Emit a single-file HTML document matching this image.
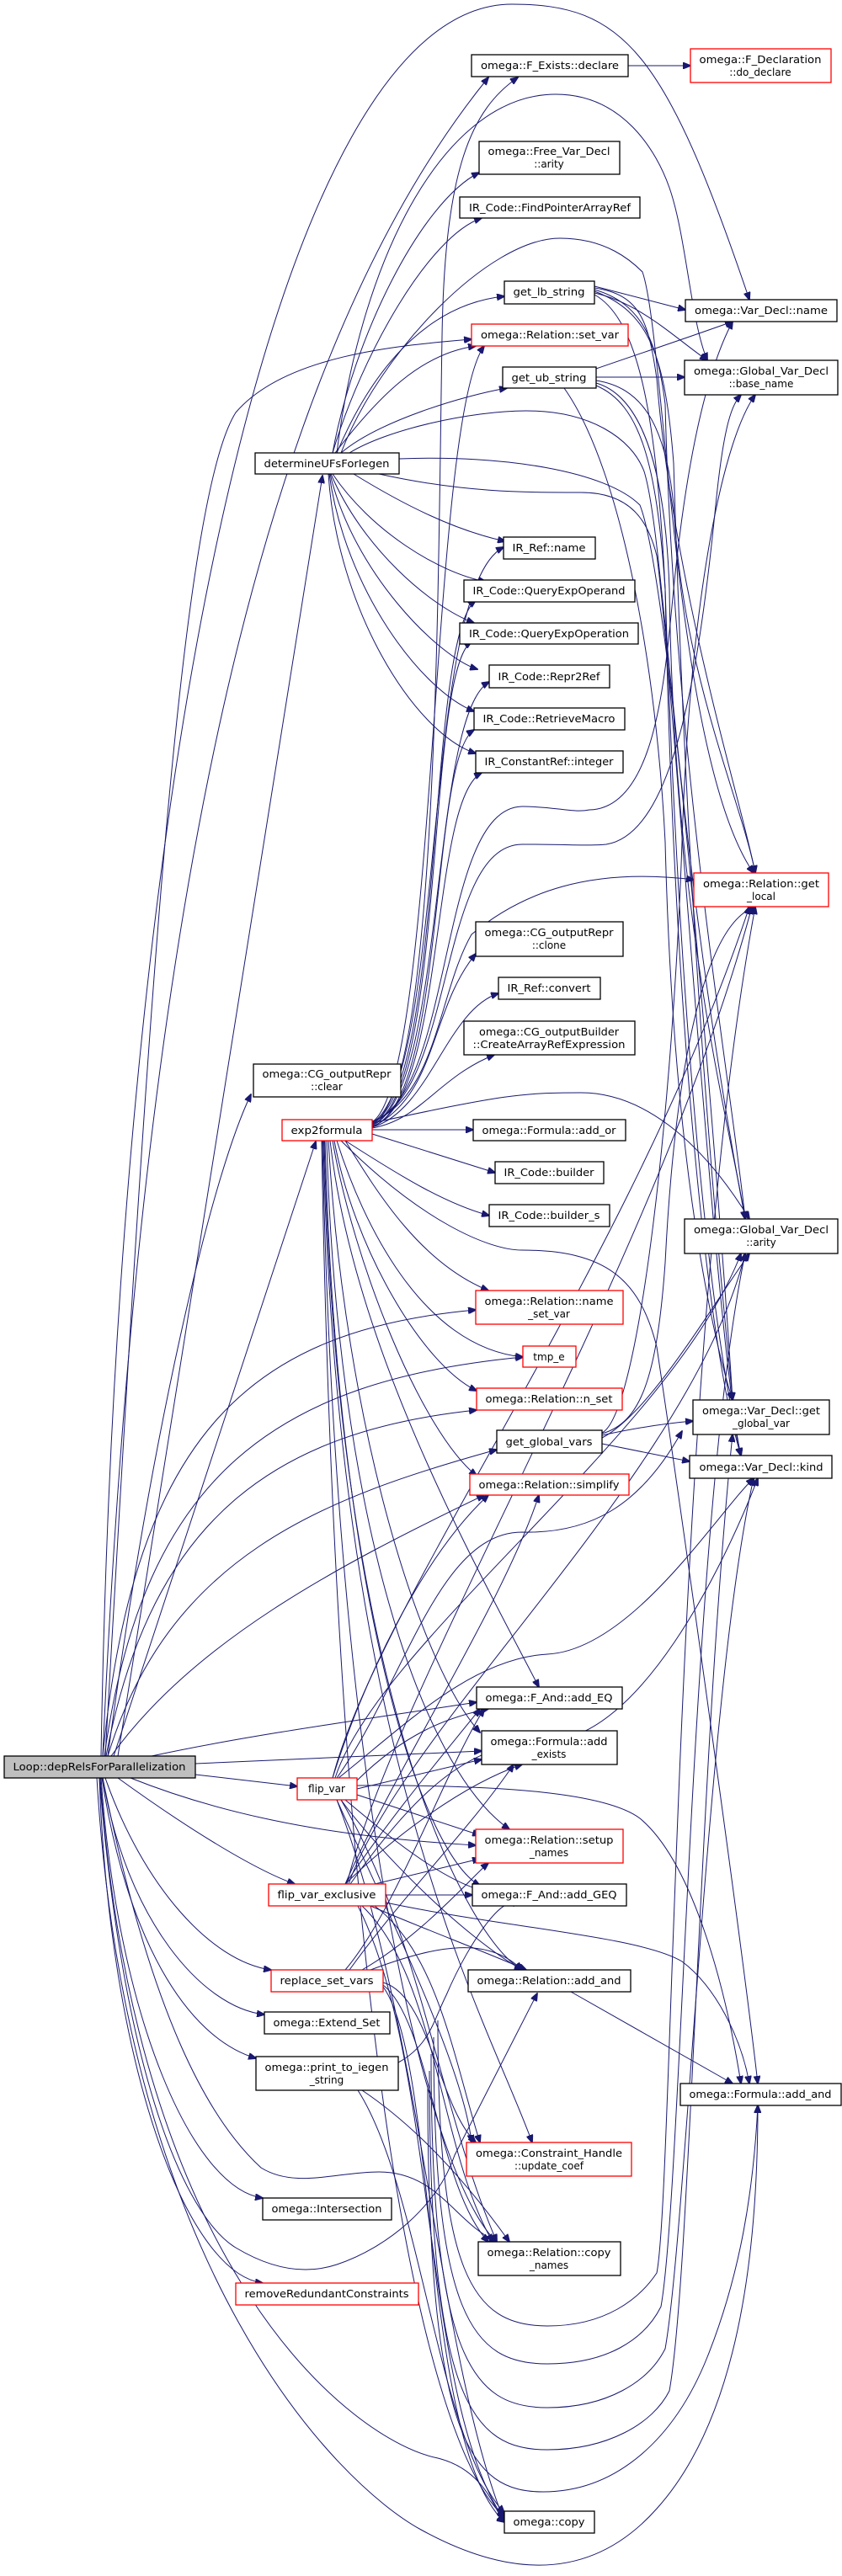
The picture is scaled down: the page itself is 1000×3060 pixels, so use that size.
<!DOCTYPE html>
<html><head><meta charset="utf-8"><style>
html,body{margin:0;padding:0;background:#fff;}
svg{display:block;}
text{font-family:"DejaVu Sans","Liberation Sans",sans-serif;font-size:12px;fill:#000;}
.e{fill:none;stroke:#191970;stroke-width:1;}
.n{fill:#fff;stroke:#000;stroke-width:1.3;}
.r{fill:#fff;stroke:#ff0000;stroke-width:1.3;}
</style></head><body>
<svg width="1000" height="3060" viewBox="0 0 1000 3060" xmlns="http://www.w3.org/2000/svg">
<defs><marker id="a" markerWidth="10" markerHeight="8" refX="9" refY="4" orient="auto" markerUnits="userSpaceOnUse"><path d="M0,0 L10,4 L0,8 z" fill="#191970" stroke="#191970"/></marker></defs>
<g class="e" marker-end="url(#a)">
<!-- Loop edges -->
<path d="M120,2086 C140,900 330,5 608,5 C740,5 790,60 890,356"/>
<path d="M122,2086 C170,1000 330,400 580,92"/>
<path d="M125,2086 C170,1300 210,600 280,490 C340,420 480,410 560,403"/>
<path d="M140,2086 L383,565"/>
<path d="M128,2086 C180,1700 250,1400 298,1300"/>
<path d="M135,2086 L375,1356"/>
<path d="M122,2086 C160,1700 300,1580 565,1556"/>
<path d="M124,2086 C170,1750 330,1640 621,1612"/>
<path d="M126,2086 C180,1800 330,1700 566,1675"/>
<path d="M128,2086 C200,1850 380,1780 590,1722"/>
<path d="M132,2086 C230,1950 400,1860 575,1776"/>
<path d="M180,2086 C300,2060 450,2040 566,2022"/>
<path d="M232,2095 L572,2080"/>
<path d="M232,2108 L353,2122"/>
<path d="M155,2112 C300,2170 450,2185 565,2192"/>
<path d="M140,2112 C220,2170 300,2220 350,2238"/>
<path d="M125,2112 C170,2240 250,2330 322,2340"/>
<path d="M122,2112 C150,2280 240,2385 314,2393"/>
<path d="M121,2112 C150,2300 220,2420 304,2445"/>
<path d="M120,2112 C140,2400 230,2600 312,2611"/>
<path d="M118,2112 C130,2450 220,2700 312,2712"/>
<path d="M115,2112 C150,2700 400,2950 500,3005 C600,3060 700,3070 780,2980 C870,2880 900,2700 900,2501"/>
<path d="M118,2112 C150,2500 230,2640 280,2670 C330,2700 370,2700 400,2690 C460,2670 520,2620 540,2560 L638,2368"/>
<path d="M122,2112 C180,2400 250,2520 310,2575 C350,2600 400,2580 450,2580 C520,2580 540,2640 590,2663"/>
<path d="M119,2112 C160,2700 420,2900 520,2920 C580,2935 590,2990 599,2996"/>
<!-- determineUFs -->
<path d="M395,538 C420,400 500,240 569,205"/>
<path d="M395,538 C430,420 510,280 572,259"/>
<path d="M400,538 C450,420 520,360 599,352"/>
<path d="M398,538 C450,470 500,420 565,411"/>
<path d="M405,538 C450,500 550,470 602,461"/>
<path d="M400,538 C430,300 530,112 660,112 C740,112 780,180 795,223 C815,280 820,380 840,428"/>
<path d="M405,538 C450,420 580,283 665,283 C720,283 750,310 763,323 C790,400 800,900 895,1037"/>
<path d="M415,538 C460,510 560,488 625,488 C700,488 750,520 765,560 C790,640 800,1000 885,1448"/>
<path d="M474,545 C600,540 720,560 760,600 C800,700 860,1500 870,1663"/>
<path d="M450,563 C550,585 620,585 690,585 C750,585 770,620 780,660 C800,800 850,1600 880,1729"/>
<path d="M420,563 C480,600 540,630 600,643"/>
<path d="M395,563 C440,630 520,680 577,691"/>
<path d="M393,563 C430,650 510,720 563,740"/>
<path d="M392,563 C420,680 520,780 567,795"/>
<path d="M391,563 C410,700 500,820 563,845"/>
<path d="M390,563 C400,720 490,870 565,895"/>
<!-- exp2formula -->
<path d="M442,1335 C520,1300 520,700 525,400 C528,200 560,130 615,92"/>
<path d="M442,1333 C520,1280 510,500 575,411"/>
<path d="M442,1334 C530,1280 500,700 598,650"/>
<path d="M442,1335 C530,1290 505,760 565,713"/>
<path d="M442,1336 C530,1300 505,800 560,762"/>
<path d="M442,1337 C530,1300 510,850 581,810"/>
<path d="M442,1338 C530,1310 510,900 563,867"/>
<path d="M442,1338 C530,1310 510,950 572,918"/>
<path d="M442,1339 C520,1300 510,1200 565,1133"/>
<path d="M442,1339 C510,1320 530,1200 592,1180"/>
<path d="M442,1340 C500,1330 520,1280 587,1253"/>
<path d="M442,1342 L562,1342"/>
<path d="M442,1347 L588,1393"/>
<path d="M410,1355 C480,1400 530,1430 581,1444"/>
<path d="M442,1333 C520,1300 520,1180 560,1110 C620,1060 700,1030 824,1045"/>
<path d="M442,1332 C540,1300 520,960 620,958 C660,958 680,966 700,962 C780,960 790,800 800,700 C820,500 850,420 870,382"/>
<path d="M442,1332 C540,1300 520,1004 620,1003 C680,1003 700,1005 720,1003 C800,990 830,800 850,600 C860,500 870,480 880,469"/>
<path d="M442,1334 C600,1300 620,1298 690,1298 C760,1298 830,1350 890,1448"/>
<path d="M410,1355 C450,1420 500,1500 580,1533"/>
<path d="M400,1355 C430,1450 500,1600 621,1612"/>
<path d="M397,1355 C420,1480 500,1620 566,1652"/>
<path d="M395,1355 C420,1500 500,1700 566,1753"/>
<path d="M392,1355 C420,1600 560,1850 640,2004"/>
<path d="M390,1355 C410,1700 500,1980 570,2058"/>
<path d="M388,1355 C400,1800 500,2100 605,2173"/>
<path d="M386,1355 C400,1900 500,2200 570,2240"/>
<path d="M385,1355 C400,2000 550,2300 620,2340"/>
<path d="M384,1355 C400,2100 580,2400 632,2545"/>
<path d="M383,1355 C400,2200 520,2600 590,2663"/>
<path d="M382,1355 C400,2400 500,2900 599,2990"/>
<path d="M405,1355 C500,1450 580,1485 620,1485 C720,1485 760,1520 780,1600 C810,1800 880,2300 900,2475"/>
<!-- get_lb / get_ub -->
<path d="M706,340 L814,368"/>
<path d="M706,348 C760,360 800,400 840,428"/>
<path d="M706,342 C760,350 770,380 780,450 C800,700 880,950 897,1037"/>
<path d="M706,344 C760,360 780,400 790,480 C800,900 870,1300 885,1448"/>
<path d="M706,346 C770,370 790,420 800,550 C820,1200 860,1550 870,1663"/>
<path d="M706,350 C760,380 780,500 790,700 C810,1300 850,1600 880,1729"/>
<path d="M708,438 C760,420 820,400 870,382"/>
<path d="M708,448 L813,448"/>
<path d="M708,452 C760,460 790,500 800,600 C810,800 880,950 897,1037"/>
<path d="M708,455 C760,470 790,550 795,700 C800,1100 870,1350 885,1448"/>
<path d="M670,461 C740,560 780,800 790,1000 C800,1400 850,1600 870,1663"/>
<path d="M708,458 C760,480 780,550 790,700 C800,1200 840,1600 880,1729"/>
<!-- get_global_vars -->
<path d="M715,1705 C760,1695 800,1690 823,1688"/>
<path d="M715,1715 L819,1736"/>
<path d="M715,1703 C760,1690 780,1640 790,1500 C800,1300 830,1100 897,1077"/>
<path d="M715,1708 C770,1680 840,1560 890,1489"/>
<path d="M715,1702 C760,1680 800,1300 810,1000 C820,700 860,520 897,469"/>
<!-- flip_var -->
<path d="M395,2112 C430,2000 500,1850 580,1776"/>
<path d="M424,2115 C480,2060 530,2040 580,2030"/>
<path d="M424,2125 L572,2090"/>
<path d="M424,2132 L570,2180"/>
<path d="M410,2138 C460,2180 520,2230 570,2245"/>
<path d="M405,2138 C450,2200 550,2300 620,2340"/>
<path d="M400,2138 C450,2250 550,2450 560,2545"/>
<path d="M424,2121 C600,2120 720,2130 760,2160 C820,2210 860,2350 880,2475"/>
<path d="M395,2112 C450,1900 750,1500 890,1077"/>
<path d="M398,2112 C450,1950 800,1700 880,1489"/>
<path d="M400,2112 C480,2000 520,1820 620,1820 C700,1822 760,1790 810,1700"/>
<path d="M402,2112 C480,2050 560,1970 650,1965 C750,1960 850,1800 895,1756"/>
<path d="M400,2138 C500,2400 520,2800 599,2995"/>
<path d="M405,2138 C500,2300 520,2500 590,2663"/>
<!-- flip_var_exclusive -->
<path d="M410,2238 C470,2150 530,2080 570,2030"/>
<path d="M410,2238 C470,2180 550,2120 620,2096"/>
<path d="M445,2238 L570,2208"/>
<path d="M458,2251 L561,2251"/>
<path d="M410,2238 C470,2100 600,1900 640,1776"/>
<path d="M412,2238 C470,2000 780,1500 893,1077"/>
<path d="M414,2238 C480,2050 820,1750 885,1489"/>
<path d="M416,2238 C500,2120 560,2070 650,2068 C760,2066 860,1860 900,1756"/>
<path d="M440,2264 C500,2290 580,2320 625,2340"/>
<path d="M445,2264 C520,2320 540,2450 570,2545"/>
<path d="M430,2264 C520,2350 520,2550 585,2663"/>
<path d="M425,2264 C520,2450 500,2850 599,2993"/>
<path d="M458,2260 C600,2290 760,2300 810,2330 C850,2360 880,2420 890,2475"/>
<!-- replace_set_vars -->
<path d="M410,2340 C470,2270 530,2100 575,2030"/>
<path d="M415,2340 C480,2250 560,2170 610,2096"/>
<path d="M430,2340 C500,2300 560,2230 580,2213"/>
<path d="M455,2355 C510,2370 520,2500 565,2545"/>
<path d="M455,2358 C510,2400 520,2600 580,2663"/>
<path d="M455,2360 C520,2450 500,2900 599,2996"/>
<path d="M440,2340 C520,2310 580,2300 620,2340"/>
<!-- print_to_iegen -->
<path d="M473,2450 C510,2430 515,2400 530,2370 C560,2300 600,2250 610,2264"/>
<path d="M430,2483 C500,2530 560,2600 605,2663"/>
<path d="M425,2483 C500,2600 520,2900 599,2985"/>
<!-- bottom arcs -->
<path d="M520,2400 C520,2700 560,2763 650,2763 C720,2763 760,2730 780,2700 C800,2600 800,1600 897,1077"/>
<path d="M515,2420 C515,2750 560,2808 650,2808 C720,2808 765,2780 785,2740 C810,2600 820,1800 885,1489"/>
<path d="M512,2440 C512,2800 560,2860 650,2860 C720,2860 770,2830 790,2790 C815,2650 840,2000 895,1756"/>
<path d="M510,2460 C510,2850 560,2910 650,2910 C720,2910 775,2880 795,2840 C820,2700 830,2100 870,1704"/>
<path d="M508,2480 C508,2900 560,2960 645,2960 C730,2960 800,2900 840,2800 C880,2700 895,2600 900,2501"/>
<path d="M678,2366 L870,2475"/>
<path d="M746,78 L820,78"/>
</g>
<!-- nodes -->
<g>
<rect class="n" x="560" y="65" width="186" height="26"/><text x="653" y="82" text-anchor="middle" textLength="164" lengthAdjust="spacingAndGlyphs">omega::F_Exists::declare</text>
<rect class="r" x="820" y="58" width="167" height="40"/><text x="903" y="75" text-anchor="middle" textLength="145" lengthAdjust="spacingAndGlyphs">omega::F_Declaration</text><text x="903" y="90" text-anchor="middle">::do_declare</text>
<rect class="n" x="569" y="168" width="167" height="39"/><text x="652" y="184" text-anchor="middle" textLength="145" lengthAdjust="spacingAndGlyphs">omega::Free_Var_Decl</text><text x="652" y="199" text-anchor="middle">::arity</text>
<rect class="n" x="546" y="234" width="214" height="25"/><text x="653" y="251" text-anchor="middle" textLength="192" lengthAdjust="spacingAndGlyphs">IR_Code::FindPointerArrayRef</text>
<rect class="n" x="599" y="334" width="107" height="27"/><text x="652" y="351" text-anchor="middle" textLength="85" lengthAdjust="spacingAndGlyphs">get_lb_string</text>
<rect class="n" x="814" y="356" width="180" height="26"/><text x="904" y="373" text-anchor="middle" textLength="158" lengthAdjust="spacingAndGlyphs">omega::Var_Decl::name</text>
<rect class="r" x="560" y="385" width="186" height="26"/><text x="653" y="402" text-anchor="middle" textLength="164" lengthAdjust="spacingAndGlyphs">omega::Relation::set_var</text>
<rect class="n" x="597" y="436" width="111" height="25"/><text x="652" y="453" text-anchor="middle" textLength="89" lengthAdjust="spacingAndGlyphs">get_ub_string</text>
<rect class="n" x="813" y="428" width="182" height="41"/><text x="904" y="445" text-anchor="middle" textLength="160" lengthAdjust="spacingAndGlyphs">omega::Global_Var_Decl</text><text x="904" y="460" text-anchor="middle">::base_name</text>
<rect class="n" x="303" y="538" width="171" height="25"/><text x="388" y="555" text-anchor="middle" textLength="149" lengthAdjust="spacingAndGlyphs">determineUFsForIegen</text>
<rect class="n" x="598" y="638" width="109" height="26"/><text x="652" y="655" text-anchor="middle" textLength="87" lengthAdjust="spacingAndGlyphs">IR_Ref::name</text>
<rect class="n" x="551" y="689" width="203" height="26"/><text x="652" y="706" text-anchor="middle" textLength="181" lengthAdjust="spacingAndGlyphs">IR_Code::QueryExpOperand</text>
<rect class="n" x="546" y="740" width="212" height="25"/><text x="652" y="757" text-anchor="middle" textLength="190" lengthAdjust="spacingAndGlyphs">IR_Code::QueryExpOperation</text>
<rect class="n" x="581" y="790" width="143" height="27"/><text x="652" y="808" text-anchor="middle" textLength="121" lengthAdjust="spacingAndGlyphs">IR_Code::Repr2Ref</text>
<rect class="n" x="563" y="841" width="179" height="26"/><text x="652" y="858" text-anchor="middle" textLength="157" lengthAdjust="spacingAndGlyphs">IR_Code::RetrieveMacro</text>
<rect class="n" x="565" y="892" width="175" height="26"/><text x="652" y="909" text-anchor="middle" textLength="153" lengthAdjust="spacingAndGlyphs">IR_ConstantRef::integer</text>
<rect class="r" x="824" y="1037" width="160" height="40"/><text x="904" y="1054" text-anchor="middle" textLength="138" lengthAdjust="spacingAndGlyphs">omega::Relation::get</text><text x="904" y="1069" text-anchor="middle">_local</text>
<rect class="n" x="565" y="1095" width="175" height="41"/><text x="652" y="1112" text-anchor="middle" textLength="153" lengthAdjust="spacingAndGlyphs">omega::CG_outputRepr</text><text x="652" y="1127" text-anchor="middle">::clone</text>
<rect class="n" x="592" y="1161" width="121" height="26"/><text x="652" y="1178" text-anchor="middle" textLength="99" lengthAdjust="spacingAndGlyphs">IR_Ref::convert</text>
<rect class="n" x="551" y="1213" width="203" height="40"/><text x="652" y="1230" text-anchor="middle" textLength="166" lengthAdjust="spacingAndGlyphs">omega::CG_outputBuilder</text><text x="652" y="1245" text-anchor="middle" textLength="181" lengthAdjust="spacingAndGlyphs">::CreateArrayRefExpression</text>
<rect class="n" x="301" y="1264" width="175" height="39"/><text x="388" y="1280" text-anchor="middle" textLength="153" lengthAdjust="spacingAndGlyphs">omega::CG_outputRepr</text><text x="388" y="1295" text-anchor="middle">::clear</text>
<rect class="r" x="335" y="1330" width="107" height="25"/><text x="388" y="1347" text-anchor="middle" textLength="85" lengthAdjust="spacingAndGlyphs">exp2formula</text>
<rect class="n" x="562" y="1330" width="181" height="25"/><text x="652" y="1347" text-anchor="middle" textLength="159" lengthAdjust="spacingAndGlyphs">omega::Formula::add_or</text>
<rect class="n" x="588" y="1380" width="129" height="26"/><text x="652" y="1397" text-anchor="middle" textLength="107" lengthAdjust="spacingAndGlyphs">IR_Code::builder</text>
<rect class="n" x="581" y="1431" width="143" height="26"/><text x="652" y="1448" text-anchor="middle" textLength="121" lengthAdjust="spacingAndGlyphs">IR_Code::builder_s</text>
<rect class="n" x="813" y="1448" width="182" height="41"/><text x="904" y="1465" text-anchor="middle" textLength="160" lengthAdjust="spacingAndGlyphs">omega::Global_Var_Decl</text><text x="904" y="1480" text-anchor="middle">::arity</text>
<rect class="r" x="565" y="1533" width="175" height="40"/><text x="652" y="1550" text-anchor="middle" textLength="153" lengthAdjust="spacingAndGlyphs">omega::Relation::name</text><text x="652" y="1565" text-anchor="middle">_set_var</text>
<rect class="r" x="621" y="1599" width="63" height="25"/><text x="652" y="1616" text-anchor="middle">tmp_e</text>
<rect class="r" x="566" y="1649" width="173" height="26"/><text x="652" y="1666" text-anchor="middle" textLength="151" lengthAdjust="spacingAndGlyphs">omega::Relation::n_set</text>
<rect class="n" x="823" y="1663" width="162" height="41"/><text x="904" y="1680" text-anchor="middle" textLength="140" lengthAdjust="spacingAndGlyphs">omega::Var_Decl::get</text><text x="904" y="1695" text-anchor="middle">_global_var</text>
<rect class="n" x="590" y="1699" width="125" height="27"/><text x="652" y="1717" text-anchor="middle" textLength="103" lengthAdjust="spacingAndGlyphs">get_global_vars</text>
<rect class="n" x="819" y="1729" width="169" height="27"/><text x="904" y="1747" text-anchor="middle" textLength="147" lengthAdjust="spacingAndGlyphs">omega::Var_Decl::kind</text>
<rect class="r" x="558" y="1751" width="189" height="25"/><text x="652" y="1768" text-anchor="middle" textLength="167" lengthAdjust="spacingAndGlyphs">omega::Relation::simplify</text>
<rect class="n" x="566" y="2004" width="173" height="26"/><text x="652" y="2021" text-anchor="middle" textLength="151" lengthAdjust="spacingAndGlyphs">omega::F_And::add_EQ</text>
<rect class="n" x="572" y="2056" width="161" height="40"/><text x="652" y="2073" text-anchor="middle" textLength="139" lengthAdjust="spacingAndGlyphs">omega::Formula::add</text><text x="652" y="2088" text-anchor="middle">_exists</text>
<rect x="5" y="2086" width="227" height="26" fill="#bfbfbf" stroke="#000" stroke-width="1.3"/><text x="118" y="2103" text-anchor="middle" textLength="205" lengthAdjust="spacingAndGlyphs">Loop::depRelsForParallelization</text>
<rect class="r" x="353" y="2112" width="71" height="26"/><text x="388" y="2129" text-anchor="middle">flip_var</text>
<rect class="r" x="565" y="2173" width="175" height="40"/><text x="652" y="2190" text-anchor="middle" textLength="153" lengthAdjust="spacingAndGlyphs">omega::Relation::setup</text><text x="652" y="2205" text-anchor="middle">_names</text>
<rect class="r" x="319" y="2238" width="139" height="26"/><text x="388" y="2255" text-anchor="middle" textLength="117" lengthAdjust="spacingAndGlyphs">flip_var_exclusive</text>
<rect class="n" x="561" y="2238" width="183" height="26"/><text x="652" y="2255" text-anchor="middle" textLength="161" lengthAdjust="spacingAndGlyphs">omega::F_And::add_GEQ</text>
<rect class="r" x="322" y="2340" width="133" height="26"/><text x="388" y="2357" text-anchor="middle" textLength="111" lengthAdjust="spacingAndGlyphs">replace_set_vars</text>
<rect class="n" x="556" y="2340" width="193" height="26"/><text x="652" y="2357" text-anchor="middle" textLength="171" lengthAdjust="spacingAndGlyphs">omega::Relation::add_and</text>
<rect class="n" x="314" y="2390" width="149" height="26"/><text x="388" y="2407" text-anchor="middle" textLength="127" lengthAdjust="spacingAndGlyphs">omega::Extend_Set</text>
<rect class="n" x="304" y="2443" width="169" height="40"/><text x="388" y="2460" text-anchor="middle" textLength="147" lengthAdjust="spacingAndGlyphs">omega::print_to_iegen</text><text x="388" y="2475" text-anchor="middle">_string</text>
<rect class="n" x="808" y="2475" width="191" height="26"/><text x="903" y="2492" text-anchor="middle" textLength="169" lengthAdjust="spacingAndGlyphs">omega::Formula::add_and</text>
<rect class="r" x="554" y="2545" width="196" height="40"/><text x="652" y="2562" text-anchor="middle" textLength="174" lengthAdjust="spacingAndGlyphs">omega::Constraint_Handle</text><text x="652" y="2577" text-anchor="middle">::update_coef</text>
<rect class="n" x="312" y="2611" width="153" height="26"/><text x="388" y="2628" text-anchor="middle" textLength="131" lengthAdjust="spacingAndGlyphs">omega::Intersection</text>
<rect class="n" x="568" y="2663" width="169" height="40"/><text x="652" y="2680" text-anchor="middle" textLength="147" lengthAdjust="spacingAndGlyphs">omega::Relation::copy</text><text x="652" y="2695" text-anchor="middle">_names</text>
<rect class="r" x="280" y="2712" width="217" height="26"/><text x="388" y="2729" text-anchor="middle" textLength="195" lengthAdjust="spacingAndGlyphs">removeRedundantConstraints</text>
<rect class="n" x="599" y="2983" width="107" height="26"/><text x="652" y="3000" text-anchor="middle" textLength="85" lengthAdjust="spacingAndGlyphs">omega::copy</text>
</g>
</svg>
</body></html>
